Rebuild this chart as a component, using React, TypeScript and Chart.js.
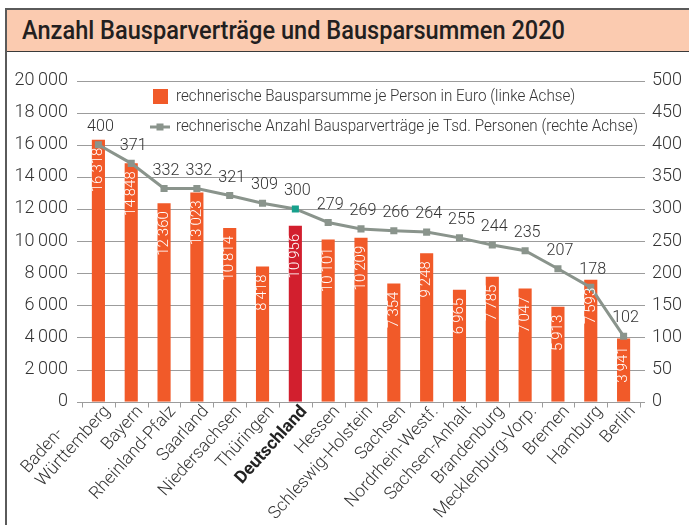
import React, { useEffect, useLayoutEffect, useRef } from "react";
import { Chart, registerables } from "chart.js";

Chart.register(...registerables);

const categories: (string | string[])[] = [
  ["Baden-", "Württemberg"],
  "Bayern",
  "Rheinland-Pfalz",
  "Saarland",
  "Niedersachsen",
  "Thüringen",
  "Deutschland",
  "Hessen",
  "Schleswig-Holstein",
  "Sachsen",
  "Nordrhein-Westf.",
  "Sachsen-Anhalt",
  "Brandenburg",
  "Mecklenburg-Vorp.",
  "Bremen",
  "Hamburg",
  "Berlin",
];

const bausparsumme = [16318, 14848, 12360, 13023, 10814, 8418, 10956, 10101, 10209, 7354, 9248, 6965, 7785, 7047, 5913, 7593, 3941];
const vertraege = [400, 371, 332, 332, 321, 309, 300, 279, 269, 266, 264, 255, 244, 235, 207, 178, 102];

const legendBar = "rechnerische Bausparsumme je Person in Euro (linke Achse)";
const legendLine = "rechnerische Anzahl Bausparverträge je Tsd. Personen (rechte Achse)";
const title = "Anzahl Bausparverträge und Bausparsummen 2020";
const highlight = "Deutschland";

const FONT = "Roboto, 'Liberation Sans', sans-serif";
const ORANGE = "#f15a29";
const RED = "#d21f2e";
const GRAY = "#8a948c";
const TEAL = "#17a08c";
const TEXT = "#333333";

function fmt(n: number): string {
  return String(Math.round(n)).replace(/\B(?=(\d{3})+(?!\d))/g, "\u2009");
}

function condText(ctx: CanvasRenderingContext2D, text: string, x: number, y: number, align: CanvasTextAlign, sx: number) {
  ctx.save();
  ctx.translate(x, y);
  ctx.scale(sx, 1);
  ctx.textAlign = align;
  ctx.fillText(text, 0, 0);
  ctx.restore();
}

const decoPlugin = {
  id: "deco",
  beforeDatasetsDraw(chart: any) {
    const { ctx, chartArea, scales } = chart;
    const y = scales.y;
    const x = scales.x;
    ctx.save();
    ctx.strokeStyle = "#9c9c9c";
    ctx.lineWidth = 1;
    for (const t of y.ticks) {
      const py = Math.round(y.getPixelForValue(t.value)) + 0.5;
      ctx.beginPath();
      ctx.moveTo(chartArea.left - 5, py);
      ctx.lineTo(chartArea.right + 5, py);
      ctx.stroke();
    }
    const step = x.getPixelForValue(1) - x.getPixelForValue(0);
    const axisY = Math.round(y.getPixelForValue(0)) + 0.5;
    for (let i = 0; i <= categories.length; i++) {
      const px = Math.round(x.getPixelForValue(0) - step / 2 + i * step) + 0.5;
      ctx.beginPath();
      ctx.moveTo(px, axisY);
      ctx.lineTo(px, axisY + 5);
      ctx.stroke();
    }
    ctx.restore();
  },
  afterDatasetsDraw(chart: any) {
    const { ctx, scales } = chart;
    const x = scales.x;
    const y = scales.y;
    const axisY = y.getPixelForValue(0);
    ctx.save();

    // bar value labels
    const barMeta = chart.getDatasetMeta(1);
    ctx.fillStyle = "#ffffff";
    ctx.font = `300 15px ${FONT}`;
    ctx.textBaseline = "middle";
    barMeta.data.forEach((el: any, i: number) => {
      ctx.save();
      ctx.translate(el.x, el.y + 8);
      ctx.rotate(-Math.PI / 2);
      ctx.textAlign = "right";
      ctx.fillText(fmt(bausparsumme[i]), 0, 0);
      ctx.restore();
    });

    // line value labels
    const lineMeta = chart.getDatasetMeta(0);
    ctx.fillStyle = TEXT;
    ctx.font = `300 17px ${FONT}`;
    ctx.textBaseline = "middle";
    lineMeta.data.forEach((el: any, i: number) => {
      condText(ctx, String(vertraege[i]), el.x + 2, el.y - 18, "center", 0.95);
    });

    // x labels
    const ang = (-48 * Math.PI) / 180;
    ctx.textBaseline = "middle";
    categories.forEach((lab, i) => {
      const px = x.getPixelForValue(i);
      const bold = lab === highlight;
      ctx.font = `${bold ? 700 : 300} 17.5px ${FONT}`;
      ctx.fillStyle = bold ? "#222" : TEXT;
      const lines = Array.isArray(lab) ? lab : [lab];
      ctx.save();
      ctx.translate(px + 9, axisY + 7);
      ctx.rotate(ang);
      const widths = lines.map((l) => ctx.measureText(l).width);
      const W = Math.max(...widths);
      const lh = 20;
      lines.forEach((l, j) => {
        ctx.textAlign = "left";
        ctx.fillText(l, -W, (j - (lines.length - 1)) * lh);
      });
      ctx.restore();
    });

    // legend
    ctx.fillStyle = ORANGE;
    ctx.fillRect(153, 89, 15, 15);
    ctx.strokeStyle = GRAY;
    ctx.lineWidth = 3;
    ctx.beginPath();
    ctx.moveTo(150, 127);
    ctx.lineTo(170, 127);
    ctx.stroke();
    ctx.fillStyle = GRAY;
    ctx.fillRect(156.5, 123.5, 7, 7);
    ctx.fillStyle = TEXT;
    ctx.font = `300 16px ${FONT}`;
    ctx.textBaseline = "middle";
    condText(ctx, legendBar, 176, 97, "left", 0.95);
    condText(ctx, legendLine, 176, 127, "left", 0.95);
    ctx.restore();
  },
};

function ChartView() {
  const ref = useRef<HTMLCanvasElement | null>(null);
  useEffect(() => {
    if (!ref.current) return;
    const chart = new Chart(ref.current, {
      type: "bar",
      data: {
        labels: categories as any,
        datasets: [
          {
            type: "line" as any,
            label: legendLine,
            data: vertraege,
            yAxisID: "y1",
            borderColor: GRAY,
            backgroundColor: GRAY,
            borderWidth: 3,
            pointStyle: "rect",
            pointRadius: 5,
            pointBorderWidth: 0,
            pointBackgroundColor: categories.map((c) => (c === highlight ? TEAL : GRAY)),
            tension: 0,
            order: 0,
          } as any,
          {
            type: "bar",
            label: legendBar,
            data: bausparsumme,
            yAxisID: "y",
            backgroundColor: categories.map((c) => (c === highlight ? RED : ORANGE)),
            barPercentage: 0.4,
            categoryPercentage: 1,
            order: 1,
          },
        ],
      },
      options: {
        responsive: false,
        animation: false,
        devicePixelRatio: 1,
        layout: { padding: { top: 80.5, left: 0, right: 0, bottom: 0 } },
        plugins: {
          legend: { display: false },
          tooltip: { enabled: false },
          title: { display: false },
        },
        scales: {
          x: {
            type: "category",
            offset: true,
            grid: { display: false, drawTicks: false, tickLength: 0 },
            border: { display: false },
            ticks: { display: false },
            afterFit: (s: any) => {
              s.height = 123.3;
            },
          },
          y: {
            position: "left",
            min: 0,
            max: 20000,
            grid: { display: false, drawTicks: false, tickLength: 0 },
            border: { display: false },
            ticks: {
              stepSize: 2000,
              padding: 14,
              color: TEXT,
              font: { family: FONT, size: 18, weight: "300" as any },
              callback: (v: any) => fmt(Number(v)),
            },
            afterFit: (s: any) => {
              s.width = 82;
            },
          },
          y1: {
            position: "right",
            min: 0,
            max: 500,
            grid: { display: false, drawTicks: false, tickLength: 0 },
            border: { display: false },
            ticks: {
              stepSize: 50,
              padding: 12,
              color: TEXT,
              font: { family: FONT, size: 18, weight: "300" as any },
            },
            afterFit: (s: any) => {
              s.width = 49;
            },
          },
        },
      } as any,
      plugins: [decoPlugin],
    });
    return () => chart.destroy();
  }, []);
  return <canvas ref={ref} width={689} height={525} style={{ position: "absolute", left: 0, top: 0, width: 689, height: 525 }} />;
}

function Title() {
  const ref = useRef<HTMLSpanElement | null>(null);
  useLayoutEffect(() => {
    const el = ref.current;
    if (!el) return;
    const w = el.getBoundingClientRect().width;
    const target = 543;
    el.style.transform = `scaleX(${target / w})`;
  }, []);
  return (
    <span
      ref={ref}
      style={{
        position: "absolute",
        left: 22,
        top: 16,
        fontFamily: FONT,
        fontWeight: 500,
        fontSize: 25,
        lineHeight: "30px",
        color: "#231f20",
        whiteSpace: "nowrap",
        transformOrigin: "0 0",
        display: "inline-block",
      }}
    >
      {title}
    </span>
  );
}

export default function App() {
  return (
    <div style={{ position: "fixed", left: 0, top: 0, width: 689, height: 525, overflow: "hidden", background: "#fff" }}>
      <div
        style={{
          position: "absolute",
          left: 5,
          top: 8,
          width: 700,
          height: 540,
          border: "2px solid #5a5a5a",
          boxSizing: "border-box",
        }}
      />
      <div
        style={{
          position: "absolute",
          left: 7,
          top: 10,
          width: 690,
          height: 42,
          background: "#fbcbb0",
          borderBottom: "1.5px solid #3a3a3a",
          boxSizing: "border-box",
        }}
      />
      <Title />
      <ChartView />
    </div>
  );
}
